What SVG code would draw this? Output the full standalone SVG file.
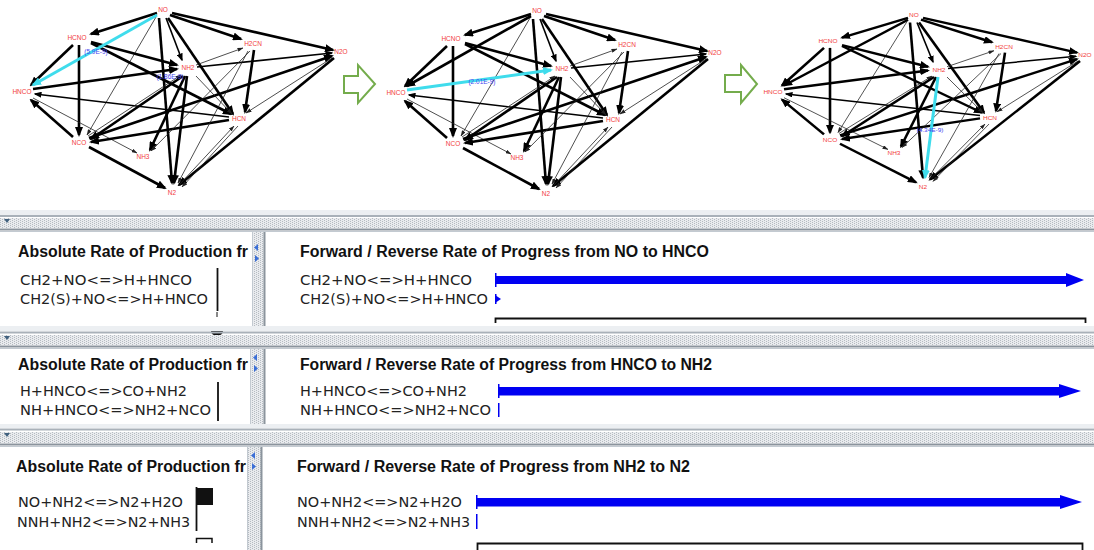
<svg xmlns="http://www.w3.org/2000/svg" width="1094" height="550" viewBox="0 0 1094 550">
<defs>
<marker id="a3" markerUnits="userSpaceOnUse" markerWidth="10" markerHeight="8" refX="8" refY="4" orient="auto"><path d="M0,0 L10,4 L0,8 z" fill="#000"/></marker>
<marker id="a2" markerUnits="userSpaceOnUse" markerWidth="8" markerHeight="6" refX="6.5" refY="3" orient="auto"><path d="M0,0 L8,3 L0,6 z" fill="#000"/></marker>
<marker id="a1" markerUnits="userSpaceOnUse" markerWidth="6" markerHeight="4" refX="5.5" refY="2" orient="auto"><path d="M0,0 L6,2 L0,4 z" fill="#222"/></marker>
<marker id="ac" markerUnits="userSpaceOnUse" markerWidth="10" markerHeight="8" refX="8" refY="4" orient="auto"><path d="M0,0 L10,4 L0,8 z" fill="#3fdcec"/></marker>
<pattern id="dots" width="4" height="2" patternUnits="userSpaceOnUse"><rect width="4" height="2" fill="#e9ebee"/><rect width="1" height="1" fill="#b5bbc1"/><rect x="2" y="1" width="1" height="1" fill="#b5bbc1"/></pattern>
</defs>
<style>
.nl{font-family:"Liberation Sans",Arial,sans-serif;font-size:6.5px;fill:#f23c3c;text-anchor:middle}
.el{font-family:"Liberation Sans",Arial,sans-serif;font-size:6.5px;fill:#4646f0;text-anchor:middle}
.e3{stroke:#000;stroke-width:2.6;fill:none;marker-end:url(#a3)}
.e2{stroke:#000;stroke-width:1.6;fill:none;marker-end:url(#a2)}
.e1{stroke:#222;stroke-width:0.8;fill:none;marker-end:url(#a1)}
.ec{stroke:#3fdcec;stroke-width:3;fill:none;marker-end:url(#ac)}
.ga{fill:#fff;stroke:#74ac4c;stroke-width:2}
.tt{font-family:"Liberation Sans",Arial,sans-serif;font-weight:bold;font-size:15.8px;fill:#111}
.rt{font-family:"DejaVu Sans",Verdana,sans-serif;font-size:14.5px;fill:#222}
.dv{fill:url(#dots)}
.ln1{stroke:#a9b1b9;stroke-width:2}
.ln2{stroke:#8b949d;stroke-width:2}
.lt{stroke:#c3cad1;stroke-width:1}
.bl{fill:#0000f2}
.sa{fill:#3a6ed6}
.bk{stroke:#111;fill:none}
</style>
<rect width="1094" height="550" fill="#fff"/>

<!-- ============ GRAPH 1 ============ -->
<g id="graph1">
<g id="g1-connectors">
<line class="e3" x1="157" y1="13" x2="91" y2="34"/>
<line class="e1" x1="156" y1="17" x2="87" y2="135"/>
<line class="e3" x1="159" y1="18" x2="172" y2="183"/>
<line class="e2" x1="166" y1="18" x2="182" y2="60"/>
<line class="e3" x1="168" y1="18" x2="233" y2="114"/>
<line class="e3" x1="170" y1="15" x2="241" y2="39"/>
<line class="e3" x1="172" y1="13" x2="333" y2="50"/>
<line class="e3" x1="73" y1="45" x2="31" y2="85"/>
<line class="e3" x1="79" y1="45" x2="79" y2="135"/>
<line class="e3" x1="91" y1="42" x2="177" y2="65"/>
<line class="e3" x1="91" y1="43" x2="231" y2="114"/>
<line class="e3" x1="33" y1="89" x2="177" y2="69"/>
<line class="e2" x1="229" y1="117" x2="35" y2="94"/>
<line class="e1" x1="33" y1="98" x2="137" y2="153"/>
<line class="e3" x1="73" y1="137" x2="31" y2="100"/>
<line class="e3" x1="89" y1="147" x2="165" y2="188"/>
<line class="e3" x1="89" y1="138" x2="332" y2="56"/>
<line class="e1" x1="88" y1="136" x2="181" y2="75"/>
<line class="e3" x1="229" y1="120" x2="91" y2="142"/>
<line class="e3" x1="183" y1="76" x2="91" y2="139"/>
<line class="e3" x1="185" y1="76" x2="150" y2="150"/>
<line class="e3" x1="187" y1="76" x2="174" y2="183"/>
<line class="e1" x1="196" y1="76" x2="232" y2="114"/>
<line class="e2" x1="197" y1="67" x2="332" y2="53"/>
<line class="e3" x1="254" y1="50" x2="245" y2="112"/>
<line class="e1" x1="250" y1="51" x2="151" y2="151"/>
<line class="e1" x1="248" y1="51" x2="178" y2="183"/>
<line class="e1" x1="196" y1="65" x2="243" y2="48"/>
<line class="e1" x1="332" y1="58" x2="246" y2="113"/>
<line class="e3" x1="334" y1="58" x2="179" y2="185"/>
<line class="e1" x1="180" y1="184" x2="234" y2="126"/>
<line class="e1" x1="238" y1="126" x2="182" y2="187"/>
<line class="ec" x1="157" y1="15" x2="33" y2="85"/>
<text class="el" x="96" y="54">(5.9E-9)</text>
<text class="el" x="170" y="79">(1.86E-9)</text>
</g>
<g id="g1-NO"><text class="nl" x="163" y="12.3">NO</text></g>
<g id="g1-HCNO"><text class="nl" x="77" y="40.3">HCNO</text></g>
<g id="g1-H2CN"><text class="nl" x="253" y="46.3">H2CN</text></g>
<g id="g1-N2O"><text class="nl" x="341" y="54.3">N2O</text></g>
<g id="g1-NH2"><text class="nl" x="188" y="70.3">NH2</text></g>
<g id="g1-HNCO"><text class="nl" x="22" y="94.3">HNCO</text></g>
<g id="g1-HCN"><text class="nl" x="239" y="121.3">HCN</text></g>
<g id="g1-NCO"><text class="nl" x="79" y="145.3">NCO</text></g>
<g id="g1-NH3"><text class="nl" x="143" y="159.3">NH3</text></g>
<g id="g1-N2"><text class="nl" x="172" y="195.3">N2</text></g>
</g>

<g id="arrow1"><path class="ga" d="M344,76 L358,76 L358,65 L375,84 L358,103 L358,93 L344,93 Z"/></g>

<!-- ============ GRAPH 2 ============ -->
<g id="graph2" transform="translate(374,1)">
<g id="g2-connectors">
<line class="e3" x1="157" y1="13" x2="91" y2="34"/>
<line class="e3" x1="157" y1="15" x2="33" y2="85"/>
<line class="e1" x1="156" y1="17" x2="87" y2="135"/>
<line class="e3" x1="159" y1="18" x2="172" y2="183"/>
<line class="e2" x1="166" y1="18" x2="182" y2="60"/>
<line class="e3" x1="168" y1="18" x2="233" y2="114"/>
<line class="e3" x1="170" y1="15" x2="241" y2="39"/>
<line class="e3" x1="172" y1="13" x2="333" y2="50"/>
<line class="e3" x1="73" y1="45" x2="31" y2="85"/>
<line class="e3" x1="79" y1="45" x2="79" y2="135"/>
<line class="e3" x1="91" y1="42" x2="177" y2="65"/>
<line class="e3" x1="91" y1="43" x2="231" y2="114"/>
<line class="e2" x1="229" y1="117" x2="35" y2="94"/>
<line class="e1" x1="33" y1="98" x2="137" y2="153"/>
<line class="e3" x1="73" y1="137" x2="31" y2="100"/>
<line class="e3" x1="89" y1="147" x2="165" y2="188"/>
<line class="e3" x1="89" y1="138" x2="332" y2="56"/>
<line class="e1" x1="88" y1="136" x2="181" y2="75"/>
<line class="e3" x1="229" y1="120" x2="91" y2="142"/>
<line class="e3" x1="183" y1="76" x2="91" y2="139"/>
<line class="e3" x1="185" y1="76" x2="150" y2="150"/>
<line class="e3" x1="187" y1="76" x2="174" y2="183"/>
<line class="e1" x1="196" y1="76" x2="232" y2="114"/>
<line class="e2" x1="197" y1="67" x2="332" y2="53"/>
<line class="e3" x1="254" y1="50" x2="245" y2="112"/>
<line class="e1" x1="250" y1="51" x2="151" y2="151"/>
<line class="e1" x1="248" y1="51" x2="178" y2="183"/>
<line class="e1" x1="196" y1="65" x2="243" y2="48"/>
<line class="e1" x1="332" y1="58" x2="246" y2="113"/>
<line class="e3" x1="334" y1="58" x2="179" y2="185"/>
<line class="e1" x1="180" y1="184" x2="234" y2="126"/>
<line class="e1" x1="238" y1="126" x2="182" y2="187"/>
<line class="ec" x1="33" y1="89" x2="177" y2="69"/>
<text class="el" x="108" y="83">(2.01E-9)</text>
</g>
<g id="g2-NO"><text class="nl" x="163" y="12.3">NO</text></g>
<g id="g2-HCNO"><text class="nl" x="77" y="40.3">HCNO</text></g>
<g id="g2-H2CN"><text class="nl" x="253" y="46.3">H2CN</text></g>
<g id="g2-N2O"><text class="nl" x="341" y="54.3">N2O</text></g>
<g id="g2-NH2"><text class="nl" x="188" y="70.3">NH2</text></g>
<g id="g2-HNCO"><text class="nl" x="22" y="94.3">HNCO</text></g>
<g id="g2-HCN"><text class="nl" x="239" y="121.3">HCN</text></g>
<g id="g2-NCO"><text class="nl" x="79" y="145.3">NCO</text></g>
<g id="g2-NH3"><text class="nl" x="143" y="159.3">NH3</text></g>
<g id="g2-N2"><text class="nl" x="172" y="195.3">N2</text></g>
</g>

<g id="arrow2"><path class="ga" d="M725,75 L741,75 L741,65 L757,84 L741,103 L741,92 L725,92 Z"/></g>

<!-- ============ GRAPH 3 ============ -->
<g id="graph3" transform="translate(751,5.6) scale(1,0.94)">
<g id="g3-connectors">
<line class="e3" x1="157" y1="13" x2="91" y2="34"/>
<line class="e3" x1="157" y1="15" x2="33" y2="85"/>
<line class="e1" x1="156" y1="17" x2="87" y2="135"/>
<line class="e3" x1="159" y1="18" x2="172" y2="183"/>
<line class="e2" x1="166" y1="18" x2="182" y2="60"/>
<line class="e3" x1="168" y1="18" x2="233" y2="114"/>
<line class="e3" x1="170" y1="15" x2="241" y2="39"/>
<line class="e3" x1="172" y1="13" x2="326" y2="50"/>
<line class="e3" x1="73" y1="45" x2="31" y2="85"/>
<line class="e3" x1="79" y1="45" x2="79" y2="135"/>
<line class="e3" x1="91" y1="42" x2="177" y2="65"/>
<line class="e3" x1="91" y1="43" x2="231" y2="114"/>
<line class="e3" x1="33" y1="89" x2="177" y2="69"/>
<line class="e2" x1="229" y1="117" x2="35" y2="94"/>
<line class="e1" x1="33" y1="98" x2="137" y2="153"/>
<line class="e3" x1="73" y1="137" x2="31" y2="100"/>
<line class="e3" x1="89" y1="147" x2="165" y2="188"/>
<line class="e3" x1="89" y1="138" x2="326" y2="57"/>
<line class="e1" x1="88" y1="136" x2="181" y2="75"/>
<line class="e3" x1="229" y1="120" x2="91" y2="142"/>
<line class="e3" x1="183" y1="76" x2="91" y2="139"/>
<line class="e3" x1="185" y1="76" x2="150" y2="150"/>
<line class="e1" x1="196" y1="76" x2="232" y2="114"/>
<line class="e2" x1="197" y1="67" x2="325" y2="54"/>
<line class="e3" x1="254" y1="50" x2="245" y2="112"/>
<line class="e1" x1="250" y1="51" x2="151" y2="151"/>
<line class="e1" x1="248" y1="51" x2="178" y2="183"/>
<line class="e1" x1="196" y1="65" x2="243" y2="48"/>
<line class="e1" x1="327" y1="59" x2="246" y2="113"/>
<line class="e3" x1="329" y1="59" x2="179" y2="185"/>
<line class="e1" x1="180" y1="184" x2="234" y2="126"/>
<line class="e1" x1="238" y1="126" x2="182" y2="187"/>
<line class="ec" x1="187" y1="76" x2="174" y2="183"/>
<text class="el" x="179" y="135">(4.34E-9)</text>
</g>
<g id="g3-NO"><text class="nl" x="163" y="12.3">NO</text></g>
<g id="g3-HCNO"><text class="nl" x="77" y="40.3">HCNO</text></g>
<g id="g3-H2CN"><text class="nl" x="253" y="46.3">H2CN</text></g>
<g id="g3-N2O"><text class="nl" x="334" y="54.3">N2O</text></g>
<g id="g3-NH2"><text class="nl" x="188" y="70.3">NH2</text></g>
<g id="g3-HNCO"><text class="nl" x="22" y="94.3">HNCO</text></g>
<g id="g3-HCN"><text class="nl" x="239" y="121.3">HCN</text></g>
<g id="g3-NCO"><text class="nl" x="79" y="145.3">NCO</text></g>
<g id="g3-NH3"><text class="nl" x="143" y="159.3">NH3</text></g>
<g id="g3-N2"><text class="nl" x="172" y="195.3">N2</text></g>
</g>

<!-- ============ PANEL 1 ============ -->
<g id="panel1">
<rect x="0" y="210" width="1094" height="5" fill="#eceff2"/>
<line class="ln1" x1="0" y1="216" x2="1094" y2="216"/>
<rect class="dv" x="0" y="218" width="1094" height="10"/>
<line class="ln2" x1="0" y1="229.5" x2="1094" y2="229.5"/>
<line class="lt" x1="0" y1="231.5" x2="1094" y2="231.5"/>
<path d="M4,219 L10,219 L7,223 Z" fill="#40607e"/>
<rect class="dv" x="252" y="232" width="12" height="94"/>
<line class="lt" x1="252.5" y1="232" x2="252.5" y2="326"/>
<line class="ln2" x1="264.5" y1="232" x2="264.5" y2="326"/>
<path class="sa" d="M258,244 L254,247.5 L258,251 Z"/>
<path class="sa" d="M255,255 L259,258.5 L255,262 Z"/>
<text class="tt" x="18" y="256.5" textLength="230" lengthAdjust="spacingAndGlyphs">Absolute Rate of Production fr</text>
<text class="rt" x="20" y="284.5" textLength="172" lengthAdjust="spacingAndGlyphs">CH2+NO&lt;=&gt;H+HNCO</text>
<text class="rt" x="20" y="303.5" textLength="188" lengthAdjust="spacingAndGlyphs">CH2(S)+NO&lt;=&gt;H+HNCO</text>
<line x1="217.5" y1="268" x2="217.5" y2="311" stroke="#111" stroke-width="1.8"/>
<line x1="217" y1="312" x2="217" y2="317" stroke="#111" stroke-width="1"/>
<ellipse cx="217" cy="331" rx="6" ry="5" fill="#111"/>
<text class="tt" x="300" y="256.5" textLength="409" lengthAdjust="spacingAndGlyphs">Forward / Reverse Rate of Progress from NO to HNCO</text>
<text class="rt" x="300" y="284.5" textLength="172" lengthAdjust="spacingAndGlyphs">CH2+NO&lt;=&gt;H+HNCO</text>
<text class="rt" x="300" y="303.5" textLength="188" lengthAdjust="spacingAndGlyphs">CH2(S)+NO&lt;=&gt;H+HNCO</text>
<rect class="bl" x="495" y="273" width="1.5" height="14"/>
<rect class="bl" x="495" y="276" width="573" height="8"/>
<path class="bl" d="M1066,273 L1084,280 L1066,287 Z"/>
<rect class="bl" x="495" y="294" width="1.5" height="10"/>
<path class="bl" d="M495,295 L501,299 L495,303 Z"/>
<path class="bk" stroke-width="1.8" d="M495.5,323 V318.5 H1085.5 V323"/>
</g>

<!-- ============ PANEL 2 ============ -->
<g id="panel2">
<rect x="0" y="326" width="1094" height="5" fill="#eceff2"/>
<line class="ln1" x1="0" y1="332.5" x2="1094" y2="332.5"/>
<rect class="dv" x="0" y="335" width="1094" height="10"/>
<line class="ln2" x1="0" y1="346.5" x2="1094" y2="346.5"/>
<line class="lt" x1="0" y1="348.5" x2="1094" y2="348.5"/>
<path d="M4,336 L10,336 L7,340 Z" fill="#40607e"/>
<rect class="dv" x="250" y="349" width="14" height="77"/>
<line class="lt" x1="250.5" y1="349" x2="250.5" y2="426"/>
<line class="ln2" x1="264.5" y1="349" x2="264.5" y2="426"/>
<path class="sa" d="M257,354 L253,357.5 L257,361 Z"/>
<path class="sa" d="M254,365 L258,368.5 L254,372 Z"/>
<text class="tt" x="18" y="369.5" textLength="230" lengthAdjust="spacingAndGlyphs">Absolute Rate of Production fr</text>
<text class="rt" x="20" y="395.5" textLength="167" lengthAdjust="spacingAndGlyphs">H+HNCO&lt;=&gt;CO+NH2</text>
<text class="rt" x="20" y="414.5" textLength="191" lengthAdjust="spacingAndGlyphs">NH+HNCO&lt;=&gt;NH2+NCO</text>
<line x1="218" y1="382" x2="218" y2="421" stroke="#111" stroke-width="1.8"/>
<text class="tt" x="300" y="369.5" textLength="412" lengthAdjust="spacingAndGlyphs">Forward / Reverse Rate of Progress from HNCO to NH2</text>
<text class="rt" x="300" y="395.5" textLength="167" lengthAdjust="spacingAndGlyphs">H+HNCO&lt;=&gt;CO+NH2</text>
<text class="rt" x="300" y="414.5" textLength="191" lengthAdjust="spacingAndGlyphs">NH+HNCO&lt;=&gt;NH2+NCO</text>
<rect class="bl" x="498" y="384" width="1.5" height="14"/>
<rect class="bl" x="498" y="387" width="563" height="8.5"/>
<path class="bl" d="M1059,384 L1081,391 L1059,398 Z"/>
<rect class="bl" x="498" y="403" width="1.5" height="14"/>
</g>

<!-- ============ PANEL 3 ============ -->
<g id="panel3">
<rect x="0" y="424" width="1094" height="4" fill="#eceff2"/>
<line class="ln1" x1="0" y1="429.5" x2="1094" y2="429.5"/>
<rect class="dv" x="0" y="432" width="1094" height="11"/>
<line class="ln2" x1="0" y1="444.5" x2="1094" y2="444.5"/>
<line class="lt" x1="0" y1="446.5" x2="1094" y2="446.5"/>
<path d="M4,433 L10,433 L7,437 Z" fill="#40607e"/>
<rect class="dv" x="247" y="447" width="14" height="103"/>
<line class="lt" x1="247.5" y1="447" x2="247.5" y2="550"/>
<line class="ln2" x1="261.5" y1="447" x2="261.5" y2="550"/>
<path class="sa" d="M255,452 L251,455.5 L255,459 Z"/>
<path class="sa" d="M252,463 L256,466.5 L252,470 Z"/>
<text class="tt" x="16" y="471.5" textLength="230" lengthAdjust="spacingAndGlyphs">Absolute Rate of Production fr</text>
<text class="rt" x="18" y="506.5" textLength="165" lengthAdjust="spacingAndGlyphs">NO+NH2&lt;=&gt;N2+H2O</text>
<text class="rt" x="17" y="526.5" textLength="173" lengthAdjust="spacingAndGlyphs">NNH+NH2&lt;=&gt;N2+NH3</text>
<rect x="196" y="488" width="17" height="17" fill="#111"/>
<line x1="196.5" y1="487" x2="196.5" y2="531" stroke="#111" stroke-width="1.8"/>
<path class="bk" stroke-width="1.5" d="M196.5,543 V538.5 H212 V543"/>
<text class="tt" x="297" y="471.5" textLength="393" lengthAdjust="spacingAndGlyphs">Forward / Reverse Rate of Progress from NH2 to N2</text>
<text class="rt" x="297" y="506.5" textLength="165" lengthAdjust="spacingAndGlyphs">NO+NH2&lt;=&gt;N2+H2O</text>
<text class="rt" x="297" y="526.5" textLength="173" lengthAdjust="spacingAndGlyphs">NNH+NH2&lt;=&gt;N2+NH3</text>
<rect class="bl" x="476" y="495" width="1.5" height="14"/>
<rect class="bl" x="476" y="498" width="585" height="8.5"/>
<path class="bl" d="M1060,495 L1082,502 L1060,509 Z"/>
<rect class="bl" x="476" y="514" width="1.5" height="15"/>
<path class="bk" stroke-width="1.8" d="M477.5,550 V543.5 H1082.5 V550"/>
</g>
</svg>
